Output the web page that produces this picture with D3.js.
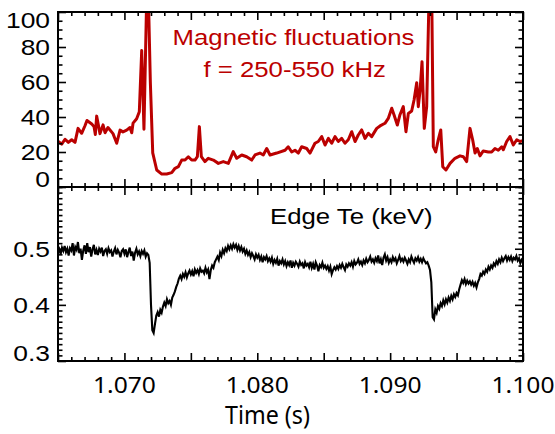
<!DOCTYPE html>
<html><head><meta charset="utf-8">
<script src="https://cdn.jsdelivr.net/npm/d3@7"></script>
<style>body{margin:0;background:#fff}svg{display:block}</style>
</head><body><svg id="c" width="555" height="434"></svg>
<script>
// ---------- DATA ----------
const magTime = [1.06502,1.06528,1.06553,1.06578,1.06603,1.06628,1.06651,1.06678,1.06703,1.06718,
1.06754,1.06771,1.06781,1.06791,1.06816,1.06839,1.06854,1.06876,1.06914,1.06942,
1.06967,1.06989,1.07017,1.07042,1.07055,1.07065,1.07092,1.07112,1.07130,1.07147,
1.07168,1.07180,1.07195,1.07213,1.07243,1.07281,1.07318,1.07356,1.07381,1.07406,
1.07431,1.07456,1.07481,1.07506,1.07531,1.07549,1.07564,1.07579,1.07606,1.07631,
1.07669,1.07707,1.07744,1.07782,1.07819,1.07845,1.07883,1.07920,1.07958,1.07983,
1.08020,1.08045,1.08071,1.08096,1.08146,1.08209,1.08233,1.08259,1.08284,1.08309,
1.08334,1.08372,1.08397,1.08434,1.08459,1.08485,1.08510,1.08535,1.08560,1.08585,
1.08610,1.08635,1.08660,1.08685,1.08711,1.08736,1.08760,1.08786,1.08811,1.08836,
1.08861,1.08899,1.08924,1.08961,1.08986,1.09012,1.09029,1.09054,1.09074,1.09099,
1.09119,1.09137,1.09162,1.09180,1.09200,1.09212,1.09225,1.09240,1.09257,1.09275,
1.09293,1.09313,1.09325,1.09343,1.09362,1.09381,1.09396,1.09420,1.09451,1.09488,
1.09526,1.09551,1.09576,1.09601,1.09621,1.09639,1.09656,1.09676,1.09701,1.09739,
1.09764,1.09789,1.09814,1.09840,1.09852,1.09877,1.09902,1.09927,1.09953,1.09977,1.10000];
const magValue = [26,24.5,27.3,25.5,27,25.5,33.5,30.7,35,38,
36,34.5,30,40.5,30.5,35.5,31,34,30.5,25,
32.5,31.5,32.5,34,31,36.5,39,43,78,33,
110,110,60,19.5,9.7,7.4,7.4,8.2,10.7,11.6,
15.4,15.4,17.3,15.4,15.4,17.3,34.5,17.3,14.5,16.4,
15.4,13.5,14.5,13.5,20.2,16.4,18.3,17.3,15.4,18.3,
19.4,18.3,22,18.3,19.4,21,23,20,21,19.4,
23,22,19.4,25,26,28.8,24,27.8,25,28.8,
26,27.8,25,27,31.6,26,29.7,32.6,27.8,30.7,
28.8,33.5,34.9,36.4,39.2,45,41.3,35.4,41.3,45.9,
31.6,42,43.4,49.7,59.6,45.9,55,71.6,33.5,45.9,
110,110,23,20,27,32.6,11.6,9.7,13.5,16.4,
17.8,17.3,14.5,33.5,27,19.4,22,17.8,20.6,20,
20,22,21,23,21.3,26,28.8,24,27,26,26.5];

const teStart = 1.065, teStep = 0.0001;
const teValue = [
0.493,0.499,0.490,0.502,0.496,0.505,0.494,0.500,0.488,0.501,
0.497,0.510,0.488,0.503,0.498,0.512,0.492,0.500,0.480,0.497,
0.506,0.491,0.510,0.494,0.503,0.486,0.499,0.507,0.490,0.498,
0.489,0.500,0.495,0.502,0.487,0.496,0.499,0.491,0.501,0.494,
0.497,0.486,0.495,0.501,0.490,0.498,0.493,0.485,0.496,0.499,
0.491,0.499,0.485,0.494,0.502,0.487,0.495,0.479,0.493,0.500,
0.490,0.495,0.487,0.496,0.491,0.497,0.486,0.492,0.489,0.475,
0.400,0.355,0.350,0.366,0.381,0.387,0.379,0.391,0.386,0.397,
0.404,0.398,0.410,0.403,0.407,0.400,0.413,0.418,0.424,0.432,
0.438,0.447,0.452,0.446,0.455,0.450,0.458,0.449,0.456,0.461,
0.454,0.460,0.451,0.463,0.457,0.462,0.455,0.465,0.459,0.461,
0.456,0.466,0.458,0.463,0.446,0.462,0.470,0.466,0.476,0.481,
0.486,0.480,0.493,0.487,0.498,0.492,0.501,0.496,0.505,0.499,
0.506,0.500,0.508,0.502,0.507,0.498,0.505,0.497,0.503,0.495,
0.500,0.491,0.497,0.489,0.494,0.485,0.492,0.487,0.481,0.490,
0.484,0.489,0.480,0.486,0.476,0.485,0.481,0.487,0.478,0.483,
0.477,0.484,0.473,0.480,0.475,0.482,0.470,0.478,0.474,0.481,
0.472,0.478,0.469,0.476,0.471,0.479,0.466,0.475,0.470,0.477,
0.473,0.468,0.477,0.471,0.474,0.465,0.476,0.470,0.473,0.467,
0.477,0.466,0.473,0.463,0.476,0.470,0.460,0.471,0.467,0.475,
0.466,0.470,0.464,0.469,0.461,0.468,0.455,0.462,0.467,0.463,
0.469,0.464,0.471,0.466,0.473,0.467,0.462,0.472,0.468,0.474,
0.470,0.476,0.468,0.478,0.472,0.475,0.481,0.473,0.477,0.471,
0.479,0.474,0.482,0.476,0.480,0.486,0.477,0.481,0.475,0.483,
0.478,0.488,0.474,0.481,0.471,0.484,0.490,0.479,0.485,0.475,
0.481,0.476,0.485,0.479,0.483,0.474,0.480,0.487,0.478,0.482,
0.477,0.484,0.479,0.473,0.481,0.476,0.486,0.480,0.475,0.483,
0.479,0.485,0.477,0.482,0.476,0.483,0.478,0.474,0.476,0.470,
0.462,0.440,0.378,0.374,0.392,0.386,0.398,0.393,0.403,0.398,
0.408,0.401,0.410,0.404,0.413,0.407,0.416,0.410,0.419,0.414,
0.421,0.417,0.428,0.436,0.444,0.439,0.446,0.437,0.443,0.438,
0.442,0.436,0.441,0.434,0.439,0.431,0.440,0.446,0.455,0.452,
0.459,0.455,0.463,0.459,0.468,0.463,0.470,0.466,0.474,0.470,
0.478,0.473,0.481,0.476,0.484,0.478,0.483,0.487,0.479,0.485,
0.480,0.486,0.478,0.484,0.481,0.487,0.479,0.483,0.474,0.480,
0.476];

const xDomain = [1.065, 1.100];
const xTickLabels = ["1.070","1.080","1.090","1.100"];
const xLabelValues = [1.070,1.080,1.090,1.100];
const magDomain = [0, 100];
const magTicks = [0,20,40,60,80,100];
const teDomain = [0.3, 0.61];
const teTicks = [0.3,0.4,0.5];
const teTickLabels = ["0.3","0.4","0.5"];
const titleLines = ["Magnetic fluctuations","f = 250-550 kHz"];
const teLabel = "Edge Te (keV)";
const xTitle = "Time (s)";

// ---------- LAYOUT ----------
const L = 58, R = 523, T1 = 12, B1 = 187, T2 = 187, B2 = 361;
const RED = "#bb0000";
const svg = d3.select("#c");

const x = d3.scaleLinear().domain(xDomain).range([L, R]);
const y1 = d3.scaleLinear().domain(magDomain).range([B1, T1]);
const y2 = d3.scaleLinear().domain(teDomain).range([B2, T2]);

const defs = svg.append("defs");
defs.append("clipPath").attr("id","clip1").append("rect").attr("x",L).attr("y",T1).attr("width",R-L).attr("height",B1-T1);
defs.append("clipPath").attr("id","clip2").append("rect").attr("x",L).attr("y",T2).attr("width",R-L).attr("height",B2-T2);

// data lines
const magData = magTime.map((t,i)=>[t, magValue[i]]);
svg.append("path").datum(magData)
  .attr("clip-path","url(#clip1)")
  .attr("fill","none").attr("stroke",RED).attr("stroke-width",3)
  .attr("stroke-linejoin","round")
  .attr("d", d3.line().x(d=>x(d[0])).y(d=>y1(d[1])));

const teData = teValue.map((v,i)=>[teStart + i*teStep, v]);
svg.append("path").datum(teData)
  .attr("clip-path","url(#clip2)")
  .attr("fill","none").attr("stroke","#000").attr("stroke-width",2.1)
  .attr("stroke-linejoin","miter")
  .attr("d", d3.line().x(d=>x(d[0])).y(d=>y2(d[1])));

// ticks
const eps = 1e-9;
const xMajor = d3.range(0, 8).map(i => xDomain[0] + i*0.005);
const xMinor = d3.range(0, 36).map(i => xDomain[0] + i*0.001).filter(v => !xMajor.some(m => Math.abs(m-v)<eps));
const magMinor = d3.range(0, 21).map(i=>i*5).filter(v => v%20!==0);
const teMinor = d3.range(30, 62).map(i=>i/100).filter(v => !teTicks.some(m=>Math.abs(m-v)<eps));

function ticks(axisGen, transform){
  const g = svg.append("g").attr("transform", transform).call(axisGen);
  g.select(".domain").remove();
  g.selectAll("line").attr("stroke","#000").attr("stroke-width",1.6);
  g.selectAll("text").remove();
}
function panelX(top, bottom){
  ticks(d3.axisTop(x).tickValues(xMajor).tickSize(-8).tickFormat(""), `translate(0,${top})`);
  ticks(d3.axisTop(x).tickValues(xMinor).tickSize(-4).tickFormat(""), `translate(0,${top})`);
  ticks(d3.axisBottom(x).tickValues(xMajor).tickSize(-8).tickFormat(""), `translate(0,${bottom})`);
  ticks(d3.axisBottom(x).tickValues(xMinor).tickSize(-4).tickFormat(""), `translate(0,${bottom})`);
}
panelX(T1, B1);
panelX(T2, B2);
function panelY(scale, major, minor){
  ticks(d3.axisLeft(scale).tickValues(major).tickSize(-8).tickFormat(""), `translate(${L},0)`);
  ticks(d3.axisLeft(scale).tickValues(minor).tickSize(-4.5).tickFormat(""), `translate(${L},0)`);
  ticks(d3.axisRight(scale).tickValues(major).tickSize(-8).tickFormat(""), `translate(${R},0)`);
  ticks(d3.axisRight(scale).tickValues(minor).tickSize(-4.5).tickFormat(""), `translate(${R},0)`);
}
panelY(y1, magTicks, magMinor);
panelY(y2, teTicks, teMinor);

// frames
[[T1,B1],[T2,B2]].forEach(([t,b])=>{
  svg.append("rect").attr("x",L).attr("y",t).attr("width",R-L).attr("height",b-t)
    .attr("fill","none").attr("stroke","#000").attr("stroke-width",2);
});

// text helper
function label(txt, px, py, opts){
  svg.append("text")
    .attr("transform", `translate(${px},${py}) scale(${opts.sx||1},1)`)
    .attr("text-anchor", opts.anchor||"start")
    .attr("font-family", opts.font||"'Liberation Sans', Arial, sans-serif")
    .attr("font-size", opts.size)
    .attr("fill", opts.fill||"#000")
    .text(txt);
}

// y tick labels
const yFont = 22, yCap = 15.7;
magTicks.forEach(v=>{
  let yy = y1(v) + yCap/2;
  if (v === magDomain[1]) yy = T1 + yCap;
  if (v === magDomain[0]) yy = B1;
  label(String(v), 50, yy, {anchor:"end", size:yFont, sx:1.2});
});
teTicks.forEach((v,i)=>{
  let yy = y2(v) + yCap/2;
  if (Math.abs(v-teDomain[0])<eps) yy = B2;
  label(teTickLabels[i], 50, yy, {anchor:"end", size:yFont, sx:1.2});
});

// x tick labels
xLabelValues.forEach((v,i)=>{
  label(xTickLabels[i], x(v), 393, {anchor:"middle", size:22, sx:1.12, font:"'Noto Sans', sans-serif"});
});
label(xTitle, 267.5, 424, {anchor:"middle", size:25, sx:0.93, font:"'Noto Sans', sans-serif"});

// annotations
label(titleLines[0], 293.5, 45, {anchor:"middle", size:23, sx:1.12, fill:RED});
label(titleLines[1], 294.7, 76.7, {anchor:"middle", size:23, sx:1.12, fill:RED});
label(teLabel, 270, 224, {anchor:"start", size:23, sx:1.12});
</script>
</body></html>
